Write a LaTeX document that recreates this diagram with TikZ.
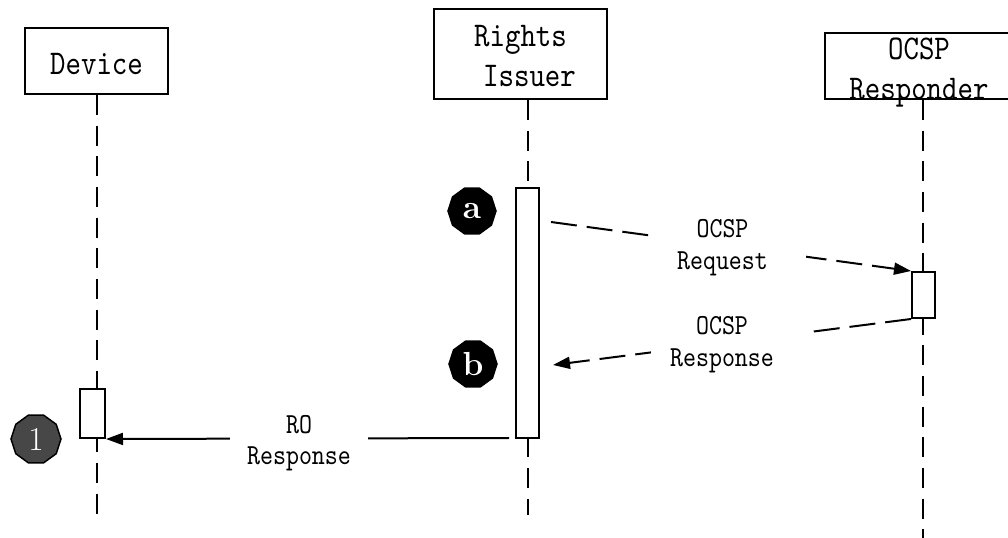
\documentclass[tikz,border=0pt]{standalone}
\usepackage{fontspec}
\newfontfamily\lmm[FakeStretch=0.85]{lmmono10-regular.otf}
\usetikzlibrary{arrows.meta,shapes.geometric}
\definecolor{badgegrey}{HTML}{474747}
\begin{document}
\begin{tikzpicture}[x=0.75pt,y=-0.75pt,
  lw/.style={line width=1.5pt},
  actor/.style={draw,lw,fill=white,rectangle,inner sep=0pt,font=\lmm\fontsize{26}{30}\selectfont},
  actbar/.style={draw,lw,fill=white,rectangle,inner sep=0pt,minimum width=17.25pt},
  life/.style={lw,dash pattern=on 15pt off 8pt},
  msg/.style={lw,-{Triangle[length=12.75pt,width=9pt]}},
  msgdash/.style={msg,dash pattern=on 19.5pt off 7.5pt},
  lbl/.style={fill=white,inner sep=0pt,font=\lmm\fontsize{21.8}{24}\selectfont,align=center},
  badge/.style={regular polygon,regular polygon sides=10,draw,line width=1.1pt,inner sep=0pt,text=white,font=\fontsize{25}{30}\selectfont}
]
\useasboundingbox (0,0) rectangle (1008,538);

% actor boxes
\node[actor,minimum width=107.25pt,minimum height=49.5pt,text height=21pt,text depth=0pt] (dev) at (96.5,61) {Device};
\node[actor,align=center,minimum width=129.75pt,minimum height=67.5pt] (ri) at (520.5,54) {\rule{0pt}{19.5pt}Rights\\\kern13.5pt Issuer};
\node[actor,minimum width=147pt,minimum height=49.5pt] (ocsp) at (923,66) {};
\node[font=\lmm\fontsize{26}{30}\selectfont,align=center,inner sep=0pt] (ocsptxt) at (919,72) {\rule{0pt}{18pt}OCSP\\Responder\rule[-6pt]{0pt}{6pt}};

% lifeline ends
\coordinate (devend) at (97,515);
\coordinate (riend) at (527,515);
\coordinate (ocspend) at (923,545);

\path (527.5,313) coordinate (ribc);
\draw[life] (dev.south) -- (dev.south |- devend);
\draw[life] (ribc |- ri.south) -- (ribc |- riend);
\draw[life] (ocsp.south) -- (ocsp.south |- ocspend);

% activation bars
\node[actbar,minimum width=18.75pt,minimum height=36.75pt] (db) at (92.5,413.5) {};
\node[actbar,minimum height=187.5pt] (rib) at (ribc) {};
\node[actbar,minimum height=34.5pt] (ob) at (923.5,295) {};

% messages
\coordinate (reqs) at (551,222);
\draw[msgdash] (reqs) -- (ob.north west);
\coordinate (resend) at (553,365);
\draw[msgdash] (ob.south west) -- (resend);
\coordinate (ros) at (509,438);
\draw[msg] (ros) -- (db.south east);

% message labels
\node[lbl,minimum width=111.75pt] (reqlbl) at (731.5,248) {\rule{0pt}{15pt}OCSP\kern13.5pt\\Request\kern13.5pt\rule[-6pt]{0pt}{6pt}};
\node[lbl,minimum width=120pt] (reslbl) at (731,345) {\rule{0pt}{15pt}OCSP\kern13.5pt\\Response\kern13.5pt\rule[-6pt]{0pt}{6pt}};
\node[lbl,minimum width=103.5pt] (rolbl) at (299,443) {\rule{0pt}{15pt}RO\\Response\rule[-6pt]{0pt}{6pt}};

% badges
\node[badge,fill=black,minimum size=36pt,font=\fontsize{25}{30}\selectfont\bfseries] (ba) at (472,211) {a};
\node[badge,fill=black,minimum size=36pt,font=\fontsize{25}{30}\selectfont\bfseries] (bb) at (473,364) {b};
\node[badge,fill=badgegrey,minimum size=37.5pt] (b1) at (36,439) {1};
\end{tikzpicture}
\end{document}
